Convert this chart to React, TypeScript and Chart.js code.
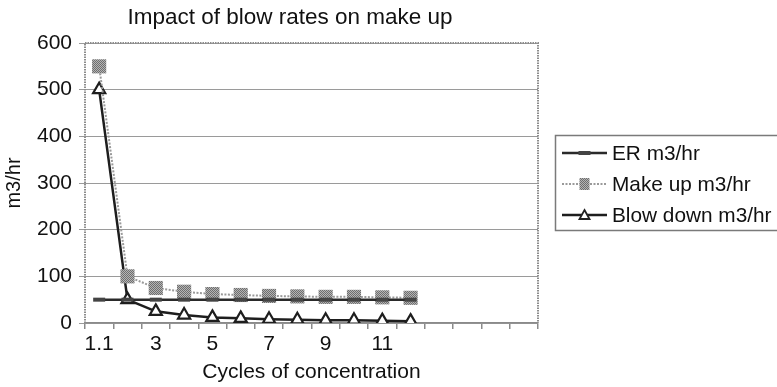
import React, { useEffect, useRef } from 'react';
import { Chart, registerables } from 'chart.js';

Chart.register(...registerables);

const categories = ['1.1', '2', '3', '4', '5', '6', '7', '8', '9', '10', '11', '12', '', '', '', ''];
const erValues = [50, 50, 50, 50, 50, 50, 50, 50, 50, 50, 50, 50];
const makeUpValues = [550, 100, 75, 67, 62, 60, 58, 57, 56, 56, 55, 54];
const blowDownValues = [500, 50, 25, 17, 12, 10, 8, 7, 6, 6, 5, 4];
const seriesLabels = ['ER m3/hr', 'Make up m3/hr', 'Blow down m3/hr'];
const chartTitle = 'Impact of blow rates on make up';
const xTitle = 'Cycles of concentration';
const yTitle = 'm3/hr';

const FONT = "'Liberation Sans', Arial, Helvetica, sans-serif";
const TEXT = '#111';

function makePattern(): CanvasPattern | string {
  const c = document.createElement('canvas');
  c.width = 2;
  c.height = 2;
  const g = c.getContext('2d');
  if (!g) return '#999';
  g.fillStyle = '#b4b4b4';
  g.fillRect(0, 0, 2, 2);
  g.fillStyle = '#6e6e6e';
  g.fillRect(0, 0, 1, 1);
  g.fillRect(1, 1, 1, 1);
  const p = g.createPattern(c, 'repeat');
  return p || '#999';
}

const framePlugin = {
  id: 'frameAndLegend',
  beforeDatasetsDraw(chart: any) {
    const { ctx, chartArea } = chart;
    const { left, top, right, bottom } = chartArea;
    ctx.save();
    ctx.strokeStyle = '#8c8c8c';
    ctx.lineWidth = 2;
    ctx.setLineDash([1.5, 1]);
    ctx.beginPath();
    ctx.moveTo(left, bottom);
    ctx.lineTo(left, top);
    ctx.lineTo(right, top);
    ctx.lineTo(right, bottom);
    ctx.stroke();
    ctx.restore();
  },
  afterDraw(chart: any) {
    const { ctx, chartArea } = chart;
    ctx.save();
    // title
    ctx.fillStyle = TEXT;
    ctx.font = `22.5px ${FONT}`;
    ctx.textAlign = 'center';
    ctx.textBaseline = 'middle';
    ctx.fillText(chartTitle, 290, 18);

    // legend
    const bx = chartArea.right + 17;
    const by = 135;
    ctx.strokeStyle = '#7a7a7a';
    ctx.lineWidth = 1.5;
    ctx.setLineDash([]);
    ctx.strokeRect(bx + 0.5, by + 0.5, 300, 95);
    const rowY = [by + 18, by + 49, by + 80];
    const x0 = bx + 7;
    const x1 = bx + 52;
    const mx = (x0 + x1) / 2;
    chart.data.datasets.forEach((ds: any, i: number) => {
      const y = rowY[i];
      ctx.save();
      ctx.strokeStyle = ds.borderColor;
      ctx.lineWidth = ds.borderWidth;
      ctx.setLineDash(ds.borderDash || []);
      ctx.beginPath();
      ctx.moveTo(x0, y);
      ctx.lineTo(x1, y);
      ctx.stroke();
      ctx.setLineDash([]);
      if (i === 0) {
        ctx.fillStyle = '#444';
        ctx.fillRect(mx - 6, y - 2, 12, 4);
      } else if (i === 1) {
        ctx.fillStyle = ds.pointBackgroundColor;
        ctx.fillRect(mx - 5, y - 6, 10, 12);
      } else {
        ctx.fillStyle = '#fff';
        ctx.strokeStyle = '#222';
        ctx.lineWidth = 1.8;
        ctx.beginPath();
        ctx.moveTo(mx, y - 5);
        ctx.lineTo(mx + 5, y + 4);
        ctx.lineTo(mx - 5, y + 4);
        ctx.closePath();
        ctx.fill();
        ctx.stroke();
      }
      ctx.restore();
      ctx.fillStyle = TEXT;
      ctx.font = `20.8px ${FONT}`;
      ctx.textAlign = 'left';
      ctx.textBaseline = 'middle';
      ctx.fillText(ds.label, x1 + 5, y + 1);
    });
    ctx.restore();
  },
};

export default function App() {
  const ref = useRef<HTMLCanvasElement | null>(null);

  useEffect(() => {
    document.body.style.margin = '0';
    const canvas = ref.current;
    if (!canvas) return;
    const pattern = makePattern();
    const chart = new Chart(canvas, {
      type: 'line',
      data: {
        labels: categories,
        datasets: [
          {
            label: seriesLabels[0],
            data: erValues,
            borderColor: '#2a2a2a',
            borderWidth: 2.5,
            pointStyle: 'line',
            pointRadius: 6,
            pointBorderWidth: 4,
            pointBorderColor: '#444',
            pointBackgroundColor: '#444',
            tension: 0,
          },
          {
            label: seriesLabels[1],
            data: makeUpValues,
            borderColor: '#9a9a9a',
            borderWidth: 2,
            borderDash: [2, 1.5],
            pointStyle: 'rect',
            pointRadius: 10,
            pointBorderWidth: 0,
            pointBorderColor: 'rgba(0,0,0,0)',
            pointBackgroundColor: pattern as any,
            tension: 0,
          },
          {
            label: seriesLabels[2],
            data: blowDownValues,
            borderColor: '#1e1e1e',
            borderWidth: 2.5,
            pointStyle: 'triangle',
            pointRadius: 7,
            pointBorderWidth: 2.2,
            pointBorderColor: '#1e1e1e',
            pointBackgroundColor: '#fff',
            tension: 0,
          },
        ],
      },
      options: {
        animation: false,
        responsive: true,
        maintainAspectRatio: false,
        layout: { padding: { top: 43, right: 239, left: 0, bottom: 0 } },
        plugins: {
          legend: { display: false },
          title: { display: false },
          tooltip: { enabled: false },
        },
        scales: {
          x: {
            type: 'category',
            offset: true,
            grid: {
              offset: true,
              drawOnChartArea: false,
              drawTicks: true,
              tickLength: 6,
              color: '#8a8a8a',
              lineWidth: 1.5,
            },
            border: { display: true, color: '#8a8a8a', width: 1.5 },
            ticks: {
              autoSkip: false,
              maxRotation: 0,
              minRotation: 0,
              padding: 3,
              color: TEXT,
              font: { family: FONT, size: 21 },
              callback: (_v: any, i: number) => (i % 2 === 0 ? categories[i] : ''),
            },
            title: {
              display: true,
              text: xTitle,
              color: TEXT,
              font: { family: FONT, size: 21 },
              padding: { top: 0, bottom: 2 },
            },
            afterFit: (s: any) => {
              s.height = 64;
            },
          },
          y: {
            min: 0,
            max: 600,
            ticks: {
              stepSize: 100,
              padding: 7,
              color: TEXT,
              font: { family: FONT, size: 21 },
            },
            grid: { color: '#9a9a9a', lineWidth: 1, tickLength: 6 },
            border: { display: false },
            title: {
              display: true,
              text: yTitle,
              color: TEXT,
              font: { family: FONT, size: 20 },
              padding: { top: 2, bottom: 0 },
            },
            afterFit: (s: any) => {
              s.width = 85;
            },
          },
        },
      },
      plugins: [framePlugin],
    });
    return () => chart.destroy();
  }, []);

  return (
    <div style={{ width: 777, height: 387, position: 'relative', background: '#fff' }}>
      <canvas ref={ref} />
    </div>
  );
}
